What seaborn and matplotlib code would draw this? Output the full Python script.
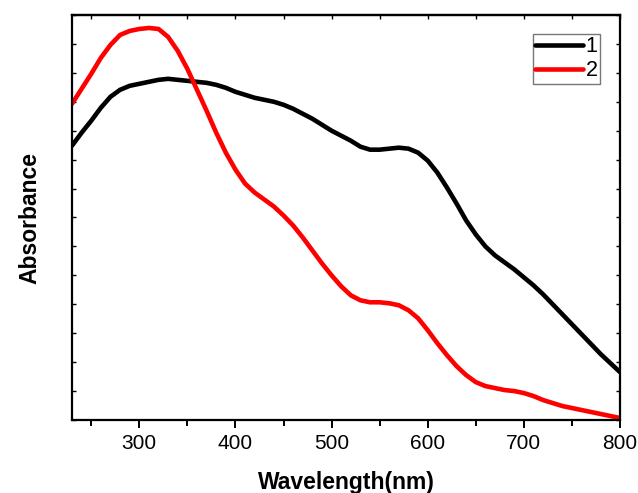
import numpy as np
import pandas as pd
import matplotlib
matplotlib.use("Agg")
import matplotlib.pyplot as plt
import seaborn as sns
from matplotlib.ticker import MultipleLocator, NullFormatter

wavelength = [230, 240, 250, 260, 270, 280, 290, 300, 310, 320, 330, 340, 350, 360, 370, 380,
              390, 400, 410, 420, 430, 440, 450, 460, 470, 480, 490, 500, 510, 520, 530, 540,
              550, 560, 570, 580, 590, 600, 610, 620, 630, 640, 650, 660, 670, 680, 690, 700,
              710, 720, 730, 740, 750, 760, 770, 780, 790, 800]

# curve heights (pixels above the bottom axis, /290)
px1 = [145, 132, 120, 107, 96, 89, 85, 83, 81, 79, 78, 79, 80, 81, 82, 84,
       87, 91, 94, 97, 99, 101, 104, 108, 113, 118, 124, 130, 135, 140, 146, 149,
       149, 148, 147, 148, 152, 160, 172, 187, 203, 220, 234, 246, 255, 262, 269, 277,
       285, 294, 304, 314, 324, 334, 344, 354, 363, 372]
px2 = [103, 88, 73, 57, 44, 34, 30, 28, 27, 28, 36, 50, 68, 89, 110, 132,
       152, 169, 183, 192, 199, 206, 215, 225, 237, 250, 263, 275, 286, 295, 300, 302,
       302, 303, 305, 310, 318, 330, 343, 355, 366, 375, 382, 386, 388, 390, 391, 393,
       396, 400, 403, 406, 408, 410, 412, 414, 416, 418]

absorb1 = [(420 - v) / 290 for v in px1]
absorb2 = [(420 - v) / 290 for v in px2]

series_names = ["1", "2"]
colors = ["#000000", "#ff0000"]
x_ticks = [300, 400, 500, 600, 700, 800]

df = pd.DataFrame({
    "Wavelength": wavelength * 2,
    "Absorbance": absorb1 + absorb2,
    "Series": [series_names[0]] * len(wavelength) + [series_names[1]] * len(wavelength),
})

sns.set_style("ticks", {"axes.edgecolor": "black", "text.color": "black",
                        "xtick.color": "black", "ytick.color": "black",
                        "axes.labelcolor": "black"})
plt.rcParams["font.family"] = ["Liberation Sans", "DejaVu Sans"]

fig = plt.figure(figsize=(6.38, 4.93), dpi=100)
ax = fig.add_axes([72 / 638, 73 / 493, 548 / 638, 405 / 493])

sns.lineplot(data=df, x="Wavelength", y="Absorbance", hue="Series",
             palette=colors, linewidth=3.3, ax=ax, sort=False,
             solid_joinstyle="round", solid_capstyle="round")

ax.set_xlim(230, 800)
ax.set_ylim(0, 1.4)
ax.set_xticks(x_ticks)
ax.xaxis.set_minor_locator(MultipleLocator(50))
ax.yaxis.set_major_locator(MultipleLocator(0.1))
ax.yaxis.set_major_formatter(NullFormatter())

for s in ax.spines.values():
    s.set_linewidth(1.6)
    s.set_color("black")
    s.set_visible(True)

ax.tick_params(axis="x", which="major", direction="out", length=6, width=1.4,
               labelsize=15, pad=4, colors="black")
ax.tick_params(axis="x", which="minor", direction="out", length=4, width=1.4,
               colors="black")
ax.tick_params(axis="y", which="both", direction="in", length=3, width=1.0,
               left=True, right=True, labelleft=False, colors="black")

top = ax.secondary_xaxis("top")
top.set_xticks(x_ticks)
top.xaxis.set_minor_locator(MultipleLocator(50))
top.tick_params(axis="x", which="both", direction="in", length=3, width=1.0,
                labeltop=False, colors="black")
top.spines["top"].set_linewidth(1.6)
top.spines["top"].set_color("black")

ax.set_xlabel("Wavelength(nm)", fontsize=16.5, fontweight="bold", labelpad=13,
              color="black")
ax.set_ylabel("Absorbance", fontsize=16.5, fontweight="bold", labelpad=22,
              color="black")

leg = ax.legend(loc="upper right", bbox_to_anchor=(528 / 548, 1 - 19 / 405),
                fontsize=15.5, frameon=True, fancybox=False, handlelength=2.2,
                handletextpad=0.15, borderpad=0.1, labelspacing=0.15,
                borderaxespad=0.0, title=None)
leg.get_frame().set_edgecolor("#555555")
leg.get_frame().set_linewidth(1.0)
for line in leg.get_lines():
    line.set_linewidth(3.3)
for t in leg.get_texts():
    t.set_color("black")

fig.savefig("out.png", dpi=100)
